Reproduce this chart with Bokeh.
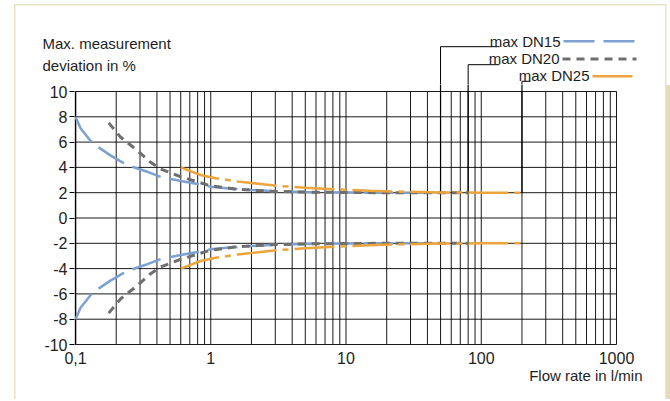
from bokeh.plotting import figure
from bokeh.layouts import column
from bokeh.models import FixedTicker, Title
from bokeh.core.properties import value
from bokeh.embed import file_html
from bokeh.resources import INLINE

# ---- data ----
flow_dn15 = [0.1, 0.109, 0.129, 0.145, 0.18, 0.222, 0.263, 0.33, 0.426, 0.6, 0.82, 1.0, 1.5, 2, 3, 5, 10, 20, 50]
dev_dn15 = [8.0, 7.1, 6.1, 5.65, 4.97, 4.4, 4.05, 3.7, 3.25, 2.93, 2.66, 2.47, 2.3, 2.22, 2.12, 2.05, 2.02, 2.0, 2.0]

flow_dn20 = [0.176, 0.215, 0.286, 0.359, 0.426, 0.6, 1.0, 1.5, 2, 3, 5, 10, 20, 80]
dev_dn20 = [7.52, 6.4, 5.34, 4.4, 3.87, 3.26, 2.54, 2.3, 2.2, 2.1, 2.05, 2.02, 2.0, 2.0]

flow_dn25 = [0.6, 0.84, 1.09, 1.58, 3.13, 5, 8.6, 15, 25.5, 50, 100, 200]
dev_dn25 = [4.0, 3.4, 3.15, 2.88, 2.54, 2.4, 2.27, 2.15, 2.08, 2.02, 2.0, 2.0]

series_names = ["max DN15", "max DN20", "max DN25"]
max_flow = [50, 80, 200]
max_dev = [2, 2, 2]

x_ticks = [0.1, 1, 10, 100, 1000]
x_tick_labels = ["0,1", "1", "10", "100", "1000"]
x_minor = [m * d for d in [0.1, 1, 10, 100] for m in range(2, 10)]
y_ticks = [-10, -8, -6, -4, -2, 0, 2, 4, 6, 8, 10]
y_tick_labels = ["-10", "-8", "-6", "-4", "-2", "0", "2", "4", "6", "8", "10"]

FONT = "Liberation Sans"
TXT = "#1e1e1e"
BLUE, GRAY, ORANGE = "#7ca0d0", "#6f6f6f", "#eca53c"
BEIGE, BAND = "#e9e2c4", "#e3dbb9"

# page-pixel mapping of the chart (0.1 -> 75 px, 1000 -> 616 px, 10 -> 91 px, -10 -> 344 px)
FL, FR, FT, FB = 75, 616, 91, 344
W = 670
SPLIT = 84          # page y where the upper strip ends and the chart figure begins
CB = 345            # page y of chart frame bottom
TOTAL_H = 399
T_ADJ = -5.0        # baseline correction for texts in the upper strip
L_ADJ = -1.5        # correction for lines in the upper strip


def dx(px):
    return 10 ** (-1 + 4 * (px - FL) / (FR - FL))


def dy(py):
    return 10 - 20 * (py - FT) / (FB - FT)


def txt(fig, x, y, s, align="left", size="15px"):
    fig.text(x=[x], y=[y], text=[s], text_font=value(FONT), text_font_size=value(size),
             text_color=TXT, text_align=align, text_baseline="alphabetic")


# ---------------- upper strip: y title, legend, leaders ----------------
top = figure(width=W, height=SPLIT, x_axis_type="log", x_range=(dx(0), dx(W)),
             y_range=(dy(SPLIT), dy(0)), min_border=0, min_border_left=0, min_border_right=0,
             min_border_top=0, min_border_bottom=0, x_axis_location=None, y_axis_location=None,
             output_backend="svg", toolbar_location=None)
top.frame_align = False
top.grid.visible = False
top.outline_line_color = None
top.background_fill_alpha = 0
top.border_fill_alpha = 0

txt(top, dx(42), dy(47.7 + T_ADJ), "Max. measurement")
txt(top, dx(42), dy(69.5 + T_ADJ), "deviation in %")

legend_cfg = [
    # text right x, baseline, line x0, x1, line y, leader y, leader x end, colour, width, dash
    (560, 45.7, 563, 635, 42.3, 47.7, 499, BLUE, 2.5, "31 9"),
    (559, 63.3, 562, 636, 60.0, 65.7, 499, GRAY, 3, "8 6"),
    (589, 80.0, 592, 632, 77.3, 82.3, 530, ORANGE, 2.5, "40 6 6 6"),
]
for name, mf, cfg in zip(series_names, max_flow, legend_cfg):
    tx, tb, lx0, lx1, ly, ldy, lxe, col, lw, dash = cfg
    txt(top, dx(tx), dy(tb + T_ADJ), name, align="right")
    top.segment(x0=[dx(lx0)], y0=[dy(ly + L_ADJ)], x1=[dx(lx1)], y1=[dy(ly + L_ADJ)],
                line_color=col, line_width=lw, line_dash=dash)
    top.segment(x0=[mf, mf], y0=[dy(SPLIT + 2), dy(ldy + L_ADJ)], x1=[mf, dx(lxe)],
                y1=[dy(ldy + L_ADJ), dy(ldy + L_ADJ)], line_color="black", line_width=1)

# ---------------- chart ----------------
p = figure(width=W, height=TOTAL_H - SPLIT, x_axis_type="log",
           x_range=(dx(FL - 1), dx(FR + 1)), y_range=(dy(CB), dy(SPLIT)),
           min_border_left=FL - 1, min_border_right=W - FR - 1, min_border_top=0,
           min_border_bottom=TOTAL_H - CB, output_backend="svg", toolbar_location=None)
p.frame_align = False
p.grid.visible = False
p.outline_line_color = None
p.background_fill_color = "white"
p.border_fill_alpha = 0

p.xaxis.ticker = FixedTicker(ticks=x_ticks, minor_ticks=[])
p.yaxis.ticker = FixedTicker(ticks=y_ticks, minor_ticks=[])
p.xaxis.major_label_overrides = {t: l for t, l in zip(x_ticks, x_tick_labels)}
p.yaxis.major_label_overrides = {t: l for t, l in zip(y_ticks, y_tick_labels)}
for ax in (p.xaxis, p.yaxis):
    ax.major_label_text_font = FONT
    ax.major_label_text_font_size = "16px"
    ax.major_label_text_color = TXT
    ax.minor_tick_line_color = None
    ax.axis_line_color = None
    ax.major_tick_in = 0
p.xaxis.major_tick_line_color = None
p.xaxis.major_tick_out = 0
p.xaxis.major_label_standoff = 6
p.yaxis.major_tick_line_color = "black"
p.yaxis.major_tick_out = 5
p.yaxis.major_label_standoff = 2

# grid (vertical at every decade and sub-decade, horizontal at every y tick)
vx = x_ticks + x_minor
p.segment(x0=vx, y0=[y_ticks[0]] * len(vx), x1=vx, y1=[y_ticks[-1]] * len(vx),
          line_color="black", line_width=1, line_alpha=0.9)
p.segment(x0=[x_ticks[0]] * len(y_ticks), y0=y_ticks, x1=[x_ticks[-1]] * len(y_ticks), y1=y_ticks,
          line_color="black", line_width=1, line_alpha=0.9)
p.segment(x0=[x_ticks[0]], y0=[y_ticks[0]], x1=[x_ticks[0]], y1=[y_ticks[-1]],
          line_color="black", line_width=1.6)

# leaders continuing down to the end of each curve
p.segment(x0=max_flow, y0=max_dev, x1=max_flow, y1=[dy(SPLIT - 2)] * 3, line_color="black", line_width=1.2)

# curves
p.line(flow_dn15, dev_dn15, line_color=BLUE, line_width=2.5, line_dash="30 9")
p.line(flow_dn15, [-v for v in dev_dn15], line_color=BLUE, line_width=2.5, line_dash="30 9")
p.line(flow_dn20, dev_dn20, line_color=GRAY, line_width=3, line_dash="8 6")
p.line(flow_dn20, [-v for v in dev_dn20], line_color=GRAY, line_width=3, line_dash="8 6")
p.line(flow_dn25, dev_dn25, line_color=ORANGE, line_width=2.5, line_dash="40 6 6 6")
p.line(flow_dn25, [-v for v in dev_dn25], line_color=ORANGE, line_width=2.5, line_dash="40 6 6 6")

p.add_layout(Title(text="Flow rate in l/min", align="right", offset=-25, standoff=0,
                   text_font=FONT, text_font_size="15px", text_font_style="normal",
                   text_color=TXT, vertical_align="top"), "below")

page_bg = ", ".join([
    f"linear-gradient({BEIGE}, {BEIGE}) 14px 4px / 1.5px 100% no-repeat",
    f"linear-gradient({BEIGE}, {BEIGE}) 14px 4px / 652px 1.5px no-repeat",
    f"linear-gradient({BEIGE}, {BEIGE}) 665px 4px / 1.5px 100% no-repeat",
    f"linear-gradient({BAND}, {BAND}) 666px 85px / 4px 100% no-repeat",
    "white",
])
layout = column(top, p, spacing=0, styles={"background": page_bg})

open("out.html", "w").write(file_html(layout, INLINE))
